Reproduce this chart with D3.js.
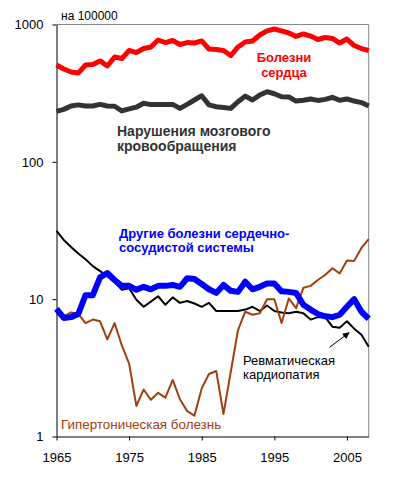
<!DOCTYPE html>
<html>
<head>
<meta charset="utf-8">
<script src="https://cdn.jsdelivr.net/npm/d3@7"></script>
<style>
  html, body { margin: 0; padding: 0; background: #fff; }
  svg { display: block; font-family: "Liberation Sans", Arial, sans-serif; }
  .lbl { font-size: 13px; }
</style>
</head>
<body>
<div id="chart"></div>
<script>
// years on the x axis
const years = [1965, 1966, 1967, 1968, 1969, 1970, 1971, 1972, 1973, 1974,
  1975, 1976, 1977, 1978, 1979, 1980, 1981, 1982, 1983, 1984,
  1985, 1986, 1987, 1988, 1989, 1990, 1991, 1992, 1993, 1994,
  1995, 1996, 1997, 1998, 1999, 2000, 2001, 2002, 2003, 2004,
  2005, 2006, 2007, 2008];

// deaths per 100000
const heart = [507, 474, 451, 443, 507, 511, 543, 499, 580, 565,
  647, 625, 668, 686, 771, 739, 765, 715, 739, 733,
  759, 663, 658, 647, 594, 686, 746, 759, 839, 898,
  927, 898, 867, 818, 853, 824, 778, 804, 791, 733,
  784, 703, 668, 647];

const cerebro = [233, 241, 255, 260, 255, 255, 262, 255, 254, 235,
  243, 250, 267, 261, 262, 262, 262, 245, 262, 282,
  303, 260, 252, 249, 245, 274, 301, 282, 307, 324,
  313, 298, 297, 277, 281, 287, 280, 285, 295, 281,
  287, 277, 270, 255];

const otherCvd = [8.5, 7.3, 7.4, 7.8, 10.7, 10.7, 14.4, 15.5, 13.8, 12.5,
  12.5, 11.7, 12.3, 11.8, 12.5, 12.5, 12.7, 12.3, 14.2, 14.0,
  12.9, 11.8, 11.1, 12.7, 11.5, 11.3, 13.4, 11.8, 12.3, 13.0,
  13.0, 11.4, 11.3, 11.1, 9.1, 8.4, 7.8, 7.5, 7.4, 7.7,
  8.8, 10.0, 8.1, 7.2];

const rheumatic = [31.4, 27.0, 24.0, 21.5, 19.5, 17.4, 16.0, 14.7, 13.3, 11.7,
  12.0, 9.9, 8.8, 9.6, 10.5, 9.1, 10.3, 9.4, 9.7, 9.3,
  8.8, 9.4, 8.2, 8.2, 8.2, 8.2, 8.4, 8.8, 8.2, 9.0,
  8.2, 8.0, 7.9, 8.1, 7.9, 7.1, 7.4, 7.4, 6.3, 6.2,
  6.9, 6.1, 5.5, 4.5];

const hypertension = [7.7, 7.5, 8.0, 7.8, 6.7, 7.1, 6.9, 5.1, 6.7, 4.6,
  3.4, 1.67, 2.2, 1.85, 2.08, 1.92, 2.58, 1.87, 1.53, 1.42,
  2.24, 2.85, 3.0, 1.46, 2.95, 5.96, 8.1, 7.7, 7.9, 10.0,
  10.0, 6.7, 10.1, 8.6, 12.1, 12.5, 13.8, 15.0, 16.8, 15.4,
  19.1, 19.0, 23.6, 27.4];

const yTicks = [1, 10, 100, 1000];
const xTicks = [1965, 1975, 1985, 1995, 2005];

const width = 399, height = 479;

const svg = d3.select('#chart').append('svg')
  .attr('width', width)
  .attr('height', height);

const x = d3.scaleLinear().domain([1965, 2008]).range([56.5, 368.7]);
const y = d3.scaleLog().domain([1, 1000]).range([436.5, 24.5]);

// frame: grey top and right edges
svg.append('line')
  .attr('x1', x(1965)).attr('x2', x(2008))
  .attr('y1', y(1000)).attr('y2', y(1000))
  .attr('stroke', '#888').attr('stroke-width', 1);
svg.append('line')
  .attr('x1', x(2008)).attr('x2', x(2008))
  .attr('y1', y(1000)).attr('y2', y(1))
  .attr('stroke', '#888').attr('stroke-width', 1);

// axes
const yAxis = svg.append('g')
  .attr('transform', `translate(${x(1965)},0)`)
  .call(d3.axisLeft(y).tickValues(yTicks).tickFormat(d3.format('d'))
    .tickSize(4).tickSizeOuter(0).tickPadding(9));

const xAxis = svg.append('g')
  .attr('transform', `translate(0,${y(1)})`)
  .call(d3.axisBottom(x).tickValues(xTicks).tickFormat(d3.format('d'))
    .tickSize(4).tickSizeOuter(0).tickPadding(12));

[yAxis, xAxis].forEach(a => {
  a.selectAll('path, line').attr('stroke', '#000').attr('stroke-width', 1);
  a.selectAll('text').attr('fill', '#000')
    .style('font-size', '13px')
    .style('font-family', '"Liberation Sans", Arial, sans-serif');
});

// series
const line = d3.line()
  .x((d, i) => x(years[i]))
  .y(d => y(d));

const series = [
  { values: rheumatic, color: '#000000', width: 2 },
  { values: hypertension, color: '#a0410d', width: 2 },
  { values: cerebro, color: '#333333', width: 5 },
  { values: heart, color: '#ff0000', width: 5 },
  { values: otherCvd, color: '#0000ff', width: 6 }
];

svg.append('g')
  .selectAll('path')
  .data(series)
  .enter().append('path')
  .attr('d', d => line(d.values))
  .attr('fill', 'none')
  .attr('stroke', d => d.color)
  .attr('stroke-width', d => d.width)
  .attr('stroke-linejoin', 'round');

// labels
function addLabel(lines, px, py, opts) {
  const t = svg.append('text')
    .attr('class', 'lbl')
    .attr('x', px).attr('y', py)
    .attr('fill', opts.color)
    .attr('font-weight', opts.bold ? 'bold' : 'normal')
    .attr('text-anchor', opts.anchor || 'start')
    .style('font-size', (opts.size || 13) + 'px');
  lines.forEach((s, i) => {
    t.append('tspan')
      .attr('x', px)
      .attr('dy', i === 0 ? 0 : opts.lh || 15)
      .text(s);
  });
}

svg.append('text')
  .attr('class', 'lbl')
  .attr('x', 61).attr('y', 20)
  .attr('fill', '#000')
  .style('font-size', '12px')
  .text('на 100000');

addLabel(['Болезни', 'сердца'], 284, 62, { color: '#ff0000', bold: true, anchor: 'middle', lh: 14.5 });
addLabel(['Нарушения мозгового', 'кровообращения'], 117, 136, { color: '#333333', bold: true, lh: 15, size: 14 });
addLabel(['Другие болезни сердечно-', 'сосудистой системы'], 119, 237.5, { color: '#0000ff', bold: true, lh: 14.5 });
addLabel(['Ревматическая', 'кардиопатия'], 243, 364.5, { color: '#000', bold: false, lh: 14 });
addLabel(['Гипертоническая болезнь'], 61, 428.5, { color: '#a0410d', bold: false, size: 13.4 });

// arrow to the rheumatic line
svg.append('defs').append('marker')
  .attr('id', 'arrow')
  .attr('viewBox', '0 0 10 10')
  .attr('refX', 9).attr('refY', 5)
  .attr('markerWidth', 7).attr('markerHeight', 7)
  .attr('markerUnits', 'userSpaceOnUse')
  .attr('orient', 'auto')
  .append('path')
  .attr('d', 'M0,0 L10,5 L0,10 z')
  .attr('fill', '#000');

svg.append('line')
  .attr('x1', x(2002.6)).attr('y1', y(4.46))
  .attr('x2', x(2005.3)).attr('y2', y(5.7))
  .attr('stroke', '#000').attr('stroke-width', 1)
  .attr('marker-end', 'url(#arrow)');
</script>
</body>
</html>
